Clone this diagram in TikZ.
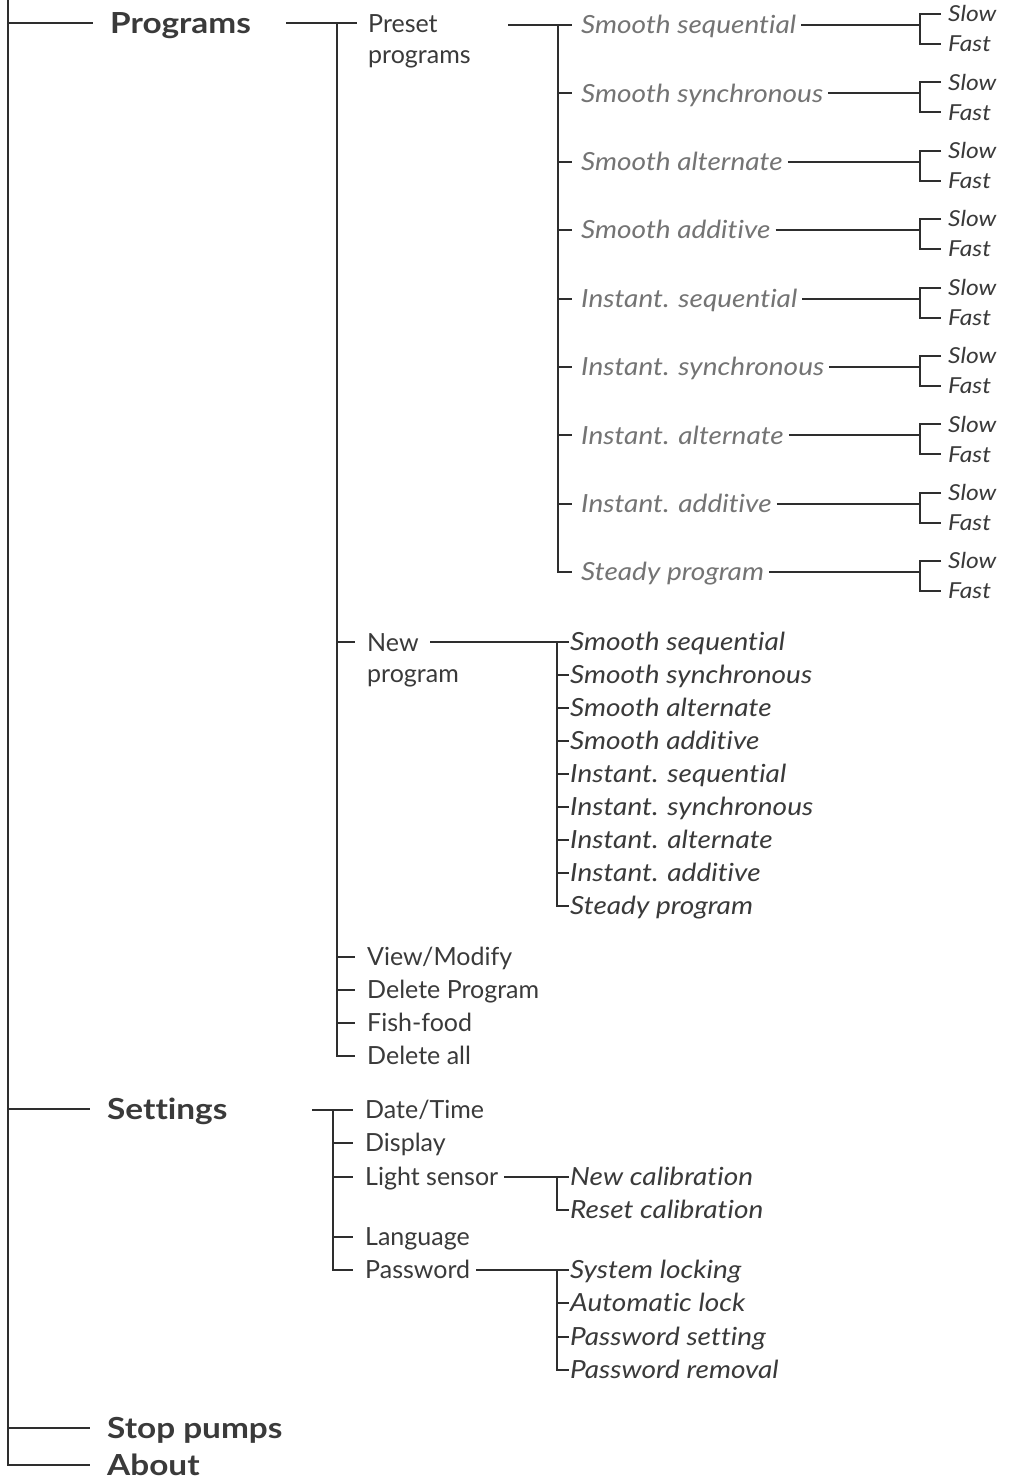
\documentclass[tikz,border=0pt]{standalone}
\usepackage{fontspec}
\setmainfont{Lato}[Ligatures=NoCommon, ItalicFeatures={FakeStretch=1.12}, BoldFeatures={FakeStretch=1.15}]
\usetikzlibrary{calc}
\definecolor{txt}{HTML}{3A3A3A}
\definecolor{ptxt}{HTML}{747474}
\definecolor{lncol}{HTML}{2E2E2E}
\begin{document}
\begin{tikzpicture}[x=1pt,y=-1pt,
  lbl/.style={anchor=west, inner sep=0pt, text height=17.5pt, text depth=0pt, text=txt, font=\fontsize{25}{31}\selectfont},
  ml/.style={anchor=north west, inner sep=0pt, align=left, text=txt, font=\fontsize{25}{31}\selectfont},
  topl/.style={lbl, text height=20.5pt, font=\fontsize{29}{34}\selectfont\bfseries},
  subl/.style={lbl, font=\fontsize{25}{31}\selectfont\itshape},
  prel/.style={subl, text=ptxt},
  sfl/.style={lbl, text height=15.5pt, font=\fontsize{22}{26}\selectfont\itshape},
  conn/.style={draw=lncol, line width=2pt}]
\useasboundingbox[fill=white] (0,0) rectangle (1011,1479);

% ---------- top level ----------
\coordinate (rtop) at (8,0);
\node[topl] (programs) at (110,23) {Programs};
\node[topl] (settings) at (107,1109) {Settings};
\node[topl] (stop) at (107,1428) {Stop pumps};
\node[topl] (about) at (107,1465) {About};
\draw[conn] (rtop) |- ([xshift=-17pt]about.west);
\draw[conn] (rtop |- programs) -- ([xshift=-17pt]programs.west);
\draw[conn] (rtop |- settings) -- ([xshift=-17pt]settings.west);
\draw[conn] (rtop |- stop) -- ([xshift=-17pt]stop.west);

% ---------- Programs ----------
\node[ml] (preset) at (368,14) {Preset\\programs};
\node[ml] (newprog) at (367,633) {New\\program};
\node[lbl] (view) at (367,957) {View/Modify};
\node[lbl] (delprog) at (367,990) {Delete Program};
\node[lbl] (fish) at (367,1023) {Fish-food};
\node[lbl] (delall) at (367,1056) {Delete all};
\coordinate (pv0) at (337,23);
\draw[conn] ([xshift=35pt]programs.east) -- ($(preset.north west)+(-11,9)$);
\draw[conn] (pv0) |- ([xshift=-12pt]delall.west);
\draw[conn] (pv0 |- newprog.north) ++(0,9) -- ($(newprog.north west)+(-12,9)$);
\draw[conn] (pv0 |- view) -- ([xshift=-12pt]view.west);
\draw[conn] (pv0 |- delprog) -- ([xshift=-12pt]delprog.west);
\draw[conn] (pv0 |- fish) -- ([xshift=-12pt]fish.west);

% ---------- Preset programs ----------
\coordinate (presetout) at (508,25);
\coordinate (pv) at (558,25);
\foreach \t [count=\i from 0] in {Smooth sequential, Smooth synchronous, Smooth alternate, Smooth additive, Instant. sequential, Instant. synchronous, Instant. alternate, Instant. additive, Steady program}{
  \pgfmathsetmacro\yy{25+68.4*\i}
  \node[prel] (p\i) at (581,\yy) {\t};
  \node[sfl] (ps\i) at (948,\yy-11) {Slow};
  \node[sfl] (pf\i) at (948,\yy+19) {Fast};
  \coordinate (pb\i) at (920,\yy);
  \draw[conn] (pv |- p\i) -- ([xshift=-9pt]p\i.west);
  \draw[conn] ([xshift=5pt]p\i.east) -- (pb\i);
  \draw[conn] ([xshift=-7pt]ps\i.west) -| (pb\i) |- ([xshift=-7pt]pf\i.west);
}
\draw[conn] (presetout) -- ([xshift=-9pt]p0.west);
\draw[conn] (pv) |- ([xshift=-9pt]p8.west);

% ---------- New program ----------
\coordinate (newout) at (430,642);
\coordinate (nv) at (557,642);
\foreach \t [count=\i from 0] in {Smooth sequential, Smooth synchronous, Smooth alternate, Smooth additive, Instant. sequential, Instant. synchronous, Instant. alternate, Instant. additive, Steady program}{
  \pgfmathsetmacro\yy{642+33*\i}
  \node[subl] (n\i) at (570,\yy) {\t};
  \draw[conn] (nv |- n\i) -- ([xshift=-1pt]n\i.west);
}
\draw[conn] (newout) -- ([xshift=-1pt]n0.west);
\draw[conn] (nv) |- ([xshift=-1pt]n8.west);

% ---------- Settings ----------
\node[lbl] (date) at (365,1110) {Date/Time};
\node[lbl] (disp) at (365,1143) {Display};
\node[lbl] (light) at (365,1177) {Light sensor};
\node[lbl] (lang) at (365,1237) {Language};
\node[lbl] (pw) at (365,1270) {Password};
\coordinate (setout) at (312,1110);
\coordinate (sv) at (333,1110);
\draw[conn] (setout) -- ([xshift=-12pt]date.west);
\draw[conn] (sv) |- ([xshift=-12pt]pw.west);
\draw[conn] (sv |- disp) -- ([xshift=-12pt]disp.west);
\draw[conn] (sv |- light) -- ([xshift=-12pt]light.west);
\draw[conn] (sv |- lang) -- ([xshift=-12pt]lang.west);

% Light sensor
\node[subl] (newcal) at (570,1177) {New calibration};
\node[subl] (rescal) at (570,1210) {Reset calibration};
\coordinate (lv) at (557,1177);
\draw[conn] ([xshift=6pt]light.east) -- ([xshift=-1pt]newcal.west);
\draw[conn] (lv) |- ([xshift=-1pt]rescal.west);

% Password
\node[subl] (syslock) at (570,1270) {System locking};
\node[subl] (autolock) at (570,1303) {Automatic lock};
\node[subl] (pwset) at (570,1337) {Password setting};
\node[subl] (pwrem) at (570,1370) {Password removal};
\coordinate (wv) at (557,1270);
\draw[conn] ([xshift=6pt]pw.east) -- ([xshift=-1pt]syslock.west);
\draw[conn] (wv) |- ([xshift=-1pt]pwrem.west);
\draw[conn] (wv |- autolock) -- ([xshift=-1pt]autolock.west);
\draw[conn] (wv |- pwset) -- ([xshift=-1pt]pwset.west);
\end{tikzpicture}
\end{document}
